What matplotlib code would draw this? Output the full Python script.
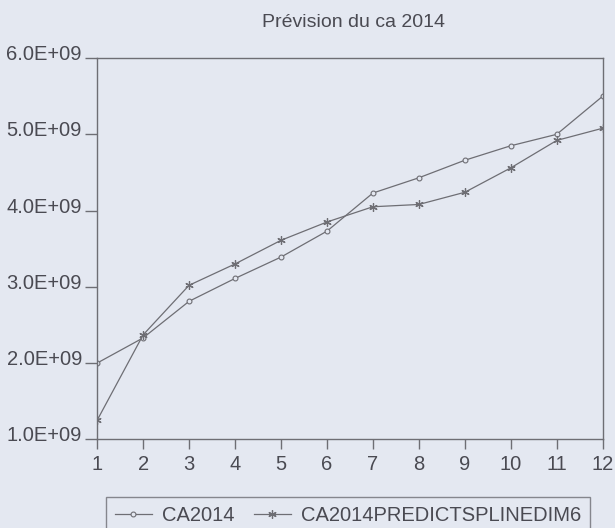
import matplotlib
matplotlib.use("Agg")
from matplotlib import pyplot as plt
from matplotlib.ticker import FuncFormatter
from matplotlib.transforms import ScaledTranslation

plt.rcParams['font.family'] = ['Liberation Sans', 'DejaVu Sans']

# donnees
mois = [1, 2, 3, 4, 5, 6, 7, 8, 9, 10, 11, 12]
ca2014 = [2.00e9, 2.33e9, 2.81e9, 3.11e9, 3.39e9, 3.73e9,
          4.23e9, 4.43e9, 4.66e9, 4.85e9, 5.00e9, 5.50e9]
ca2014_predict = [1.25e9, 2.37e9, 3.02e9, 3.30e9, 3.61e9, 3.85e9,
                  4.05e9, 4.08e9, 4.24e9, 4.56e9, 4.92e9, 5.08e9]
y_ticks = [1.0e9, 2.0e9, 3.0e9, 4.0e9, 5.0e9, 6.0e9]

fond = "#e4e8f1"
gris = "#6e6e74"
texte = "#4a4a52"

fig = plt.figure(figsize=(6.15, 5.28), dpi=100)
fig.patch.set_facecolor(fond)
ax = fig.add_axes([0.158, 0.168, 0.822, 0.722])
ax.set_facecolor(fond)

ax.plot(mois, ca2014, color=gris, lw=0.9, marker="o", ms=3.5,
        mfc=fond, mec=gris, mew=0.8, label="CA2014")
ax.plot(mois, ca2014_predict, color=gris, lw=0.9, marker=(6, 2, 0), ms=6,
        mec=gris, mew=0.9, label="CA2014PREDICTSPLINEDIM6")

ax.set_xlim(1, 12)
ax.set_ylim(1.0e9, 6.0e9)
ax.set_xticks(mois)
ax.set_yticks(y_ticks)
ax.yaxis.set_major_formatter(FuncFormatter(lambda v, p: f"{v / 1e9:.1f}E+09"))

for s in ax.spines.values():
    s.set_color(gris)
    s.set_linewidth(1.0)
ax.tick_params(colors=gris, labelcolor=texte, labelsize=14.5, width=1.0)
ax.tick_params(axis="x", length=7, pad=4)
ax.tick_params(axis="y", length=9, pad=2)

# les libelles de l'axe y sont un peu au-dessus des graduations
decal = ScaledTranslation(0, 4 / 72, fig.dpi_scale_trans)
for lab in ax.get_yticklabels():
    lab.set_transform(lab.get_transform() + decal)

fig.text(0.575, 0.958, "Prévision du ca 2014", ha="center", va="center",
         fontsize=14, color=texte)

leg = fig.legend(loc="lower center", bbox_to_anchor=(0.566, -0.012), ncol=2,
                 fontsize=14.5, frameon=True, fancybox=False, handlelength=1.8,
                 labelcolor=texte, borderpad=0.45, borderaxespad=0.0,
                 columnspacing=1.0, handletextpad=0.5)
leg.get_frame().set_edgecolor(gris)
leg.get_frame().set_facecolor(fond)
leg.get_frame().set_linewidth(1.0)

fig.savefig("out.png", dpi=100, facecolor=fond)
